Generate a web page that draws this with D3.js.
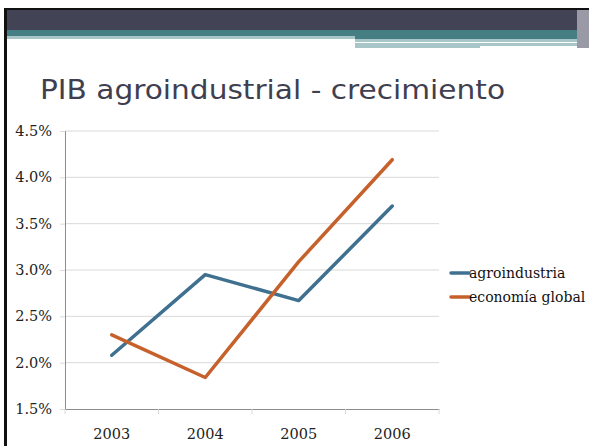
<!DOCTYPE html>
<html>
<head>
<meta charset="utf-8">
<script src="https://cdn.jsdelivr.net/npm/d3@7"></script>
<style>
  body { margin: 0; background: #fff; }
  svg { display: block; }
</style>
</head>
<body>
<div id="chart"></div>
<script>
var years = ['2003', '2004', '2005', '2006'];
var agroindustria = [2.08, 2.95, 2.67, 3.69];
var economiaGlobal = [2.30, 1.84, 3.09, 4.19];
var seriesNames = ['agroindustria', 'economía global'];
var seriesColors = ['#40708f', '#c6612b'];
var yTicks = [1.5, 2.0, 2.5, 3.0, 3.5, 4.0, 4.5];

var W = 589, H = 446;
var margin = {top: 131, left: 65, right: 150, bottom: 37};
var width = W - margin.left - margin.right,
    height = H - margin.top - margin.bottom;

var svg = d3.select('#chart').append('svg')
  .attr('width', W)
  .attr('height', H);

// slide decoration
svg.append('rect').attr('x', 4).attr('y', 8).attr('width', W - 4).attr('height', 2).attr('fill', '#111');
svg.append('rect').attr('x', 4).attr('y', 8).attr('width', 3).attr('height', H - 8).attr('fill', '#111');
svg.append('rect').attr('x', 7).attr('y', 10).attr('width', 570).attr('height', 20).attr('fill', '#434356');
svg.append('rect').attr('x', 7).attr('y', 30).attr('width', 570).attr('height', 6).attr('fill', '#457f84');
svg.append('rect').attr('x', 355).attr('y', 36).attr('width', 222).attr('height', 3).attr('fill', '#457f84');
svg.append('rect').attr('x', 7).attr('y', 36).attr('width', 348).attr('height', 3).attr('fill', '#a8c5c7');
svg.append('rect').attr('x', 355).attr('y', 39).attr('width', 222).attr('height', 3).attr('fill', '#a8c5c7');
svg.append('rect').attr('x', 355).attr('y', 42).attr('width', 196).attr('height', 1).attr('fill', '#ffffff');
svg.append('rect').attr('x', 355).attr('y', 43).attr('width', 222).attr('height', 3).attr('fill', '#a8c5c7');
svg.append('rect').attr('x', 355).attr('y', 46).attr('width', 125).attr('height', 2).attr('fill', '#a8c5c7');
svg.append('rect').attr('x', 577).attr('y', 10).attr('width', 12).attr('height', 38).attr('fill', '#9a9aa6');

// title
svg.append('text')
  .attr('x', 40).attr('y', 99)
  .attr('font-family', 'DejaVu Sans, sans-serif')
  .attr('font-size', 27)
  .attr('fill', '#3f3f50')
  .attr('textLength', 465)
  .attr('lengthAdjust', 'spacingAndGlyphs')
  .text('PIB agroindustrial - crecimiento');

var g = svg.append('g')
  .attr('transform', 'translate(' + margin.left + ',' + margin.top + ')');

var xScale = d3.scaleBand()
  .domain(years)
  .range([0, width]);

var yScale = d3.scaleLinear()
  .domain([1.5, 4.5])
  .range([height, 0]);

// gridlines
g.selectAll('.grid').data(yTicks.slice(1))
  .enter().append('line')
    .attr('x1', 0).attr('x2', width)
    .attr('y1', function(d) { return yScale(d); })
    .attr('y2', function(d) { return yScale(d); })
    .attr('stroke', '#d9d9d9')
    .attr('stroke-width', 1);

var yAxis = g.append('g')
  .call(d3.axisLeft(yScale).tickValues(yTicks).tickSize(5).tickPadding(8)
    .tickFormat(function(d) { return d.toFixed(1) + '%'; }));
yAxis.select('.domain').attr('stroke', '#8c8c8c');
yAxis.selectAll('.tick line').attr('stroke', '#d9d9d9');
yAxis.selectAll('text')
  .attr('font-family', 'DejaVu Serif, serif')
  .attr('font-size', 14.5)
  .attr('fill', '#222');

var xAxis = g.append('g')
  .attr('transform', 'translate(0,' + height + ')')
  .call(d3.axisBottom(xScale).tickSize(0).tickPadding(20));
xAxis.select('.domain').attr('stroke', '#8c8c8c');
xAxis.selectAll('text')
  .attr('font-family', 'DejaVu Serif, serif')
  .attr('font-size', 14.5)
  .attr('fill', '#222');

// x tick marks at band edges
var edges = years.map(function(d) { return xScale(d); }).concat([width]);
xAxis.selectAll('.edge').data(edges)
  .enter().append('line')
    .attr('x1', function(d) { return d; })
    .attr('x2', function(d) { return d; })
    .attr('y1', 0).attr('y2', 5)
    .attr('stroke', '#d9d9d9');

var line = d3.line()
  .x(function(d, i) { return xScale(years[i]) + xScale.bandwidth() / 2; })
  .y(function(d) { return yScale(d); });

[agroindustria, economiaGlobal].forEach(function(s, i) {
  g.append('path')
    .datum(s)
    .attr('d', line)
    .attr('fill', 'none')
    .attr('stroke', seriesColors[i])
    .attr('stroke-width', 3.5)
    .attr('stroke-linejoin', 'round')
    .attr('stroke-linecap', 'round');
});

// legend
var legend = svg.append('g')
  .attr('transform', 'translate(451,273)');
seriesNames.forEach(function(name, i) {
  legend.append('line')
    .attr('x1', 0).attr('x2', 18)
    .attr('y1', i * 24).attr('y2', i * 24)
    .attr('stroke', seriesColors[i])
    .attr('stroke-width', 3.5)
    .attr('stroke-linecap', 'round');
  legend.append('text')
    .attr('x', 18).attr('y', i * 24)
    .attr('dy', '0.35em')
    .attr('font-family', 'DejaVu Serif, serif')
    .attr('font-size', 14)
    .attr('fill', '#111')
    .text(name);
});
</script>
</body>
</html>
